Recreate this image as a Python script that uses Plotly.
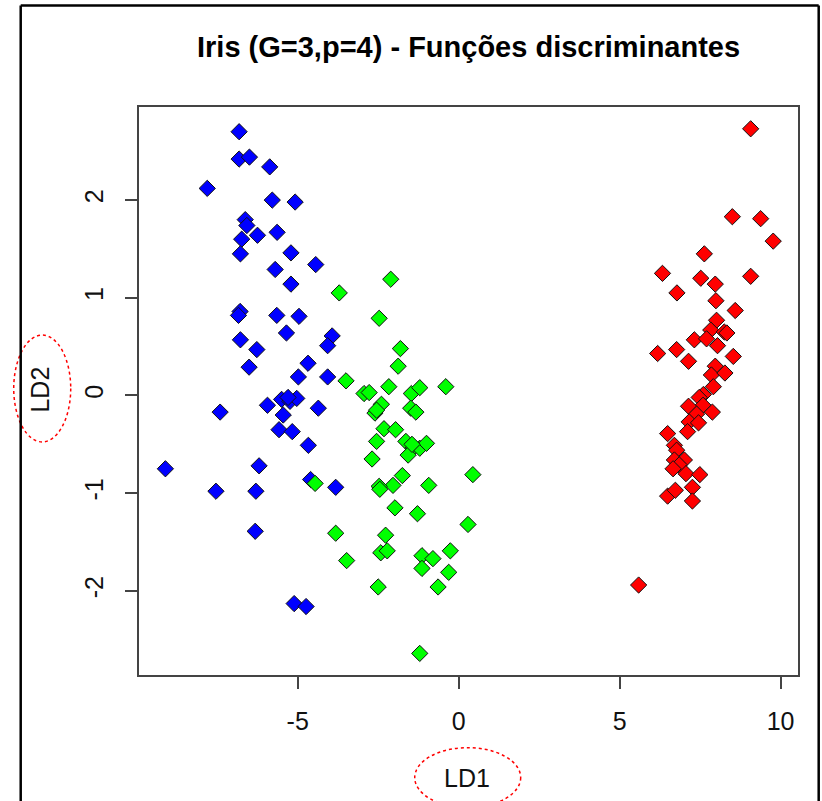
import plotly.graph_objects as go

# Discriminant scores (LD1, LD2) for each group
blue_ld1 = [-6.82, -6.82, -6.50, -5.87, -7.81, -5.79, -5.08, -6.63, -6.58, -6.74,
            -6.25, -5.64, -6.78, -5.21, -4.44, -5.70, -5.21, -6.79, -6.84, -5.65,
            -4.96, -5.35, -3.93, -4.07, -6.78, -6.27, -6.51, -4.68, -4.98, -4.07,
            -7.41, -5.94, -5.50, -5.24, -5.03, -4.36, -5.45, -5.58, -5.17, -4.67,
            -9.11, -6.20, -7.54, -6.30, -4.60, -3.82, -6.32, -5.11, -4.74, -5.30]
blue_ld2 = [2.70, 2.42, 2.44, 2.34, 2.12, 2.00, 1.98, 1.80, 1.74, 1.60,
            1.64, 1.67, 1.45, 1.46, 1.34, 1.29, 1.14, 0.86, 0.82, 0.82,
            0.81, 0.64, 0.61, 0.51, 0.57, 0.47, 0.29, 0.33, 0.19, 0.19,
            -0.17, -0.10, -0.04, -0.06, -0.03, -0.13, -0.20, -0.35, -0.37, -0.51,
            -0.75, -0.72, -0.98, -0.98, -0.86, -0.94, -1.39, -2.13, -2.16, -0.02]

green_ld1 = [-2.11, -3.71, -2.47, -1.81, -1.88, -3.50, -2.94, -2.78, -2.17, -1.47,
             -1.21, -0.40, -2.40, -2.60, -1.49, -1.33, -2.32, -1.96, -2.55, -1.64,
             -1.42, -1.21, -1.00, -1.57, -2.69, 0.44, -1.75, -2.04, -2.47, -2.45,
             -0.93, -4.46, -1.98, -1.28, 0.29, -3.82, -2.27, -2.42, -2.22, -3.48,
             -1.14, -0.80, -0.26, -1.14, -0.31, -2.50, -0.64, -1.21, -2.55, -1.45]
green_ld2 = [1.19, 1.05, 0.79, 0.48, 0.30, 0.15, 0.02, 0.03, 0.09, 0.02,
             0.08, 0.09, -0.09, -0.18, -0.13, -0.17, -0.34, -0.35, -0.47, -0.47,
             -0.54, -0.54, -0.49, -0.61, -0.65, -0.81, -0.82, -0.92, -0.93, -0.96,
             -0.92, -0.90, -1.15, -1.21, -1.32, -1.41, -1.43, -1.61, -1.59, -1.69,
             -1.64, -1.67, -1.59, -1.77, -1.81, -1.96, -1.96, -2.64, -0.15, -0.50]

red_ld1 = [9.07, 8.50, 9.38, 9.77, 7.63, 6.33, 7.52, 7.97, 9.07, 6.78,
           7.99, 8.59, 8.01, 7.83, 8.25, 8.33, 7.32, 7.70, 8.04, 6.18,
           6.77, 7.14, 8.53, 7.97, 7.85, 8.27, 7.91, 7.60, 7.47, 7.59,
           7.14, 7.88, 7.39, 7.16, 7.45, 7.11, 6.49, 6.70, 6.77, 6.70,
           7.01, 6.85, 6.66, 7.06, 7.49, 6.49, 6.73, 7.26, 7.26, 5.59]
red_ld2 = [2.73, 1.83, 1.81, 1.58, 1.45, 1.25, 1.20, 1.14, 1.22, 1.05,
           0.97, 0.87, 0.77, 0.67, 0.65, 0.64, 0.57, 0.58, 0.51, 0.43,
           0.47, 0.35, 0.40, 0.30, 0.21, 0.23, 0.09, 0.01, -0.02, -0.10,
           -0.11, -0.17, -0.19, -0.27, -0.28, -0.37, -0.39, -0.51, -0.56, -0.66,
           -0.66, -0.71, -0.75, -0.80, -0.81, -1.03, -0.97, -0.94, -1.08, -1.94]

x_ticks = [-5, 0, 5, 10]
y_ticks = [-2, -1, 0, 1, 2]

FONT = "Liberation Sans, Arial, sans-serif"

fig = go.Figure()
for xs, ys, col in [(blue_ld1, blue_ld2, "#0000FF"),
                    (green_ld1, green_ld2, "#00FF00"),
                    (red_ld1, red_ld2, "#FF0000")]:
    fig.add_trace(go.Scatter(
        x=xs, y=ys, mode="markers",
        marker=dict(symbol="diamond", size=12.5, color=col,
                    line=dict(color="#111111", width=1)),
        showlegend=False, hoverinfo="x+y"))

axis_common = dict(showgrid=False, zeroline=False, showline=True, mirror=True,
                   linecolor="#444444", linewidth=2, ticks="outside", ticklen=12,
                   tickwidth=1.5, tickcolor="#444444",
                   tickfont=dict(family=FONT, size=25, color="#111111"))

fig.update_layout(
    width=822, height=801,
    margin=dict(l=139, r=24, t=107, b=126),
    paper_bgcolor="white", plot_bgcolor="white",
    xaxis=dict(range=[-9.93, 10.54], tickvals=x_ticks, ticktext=[str(v) for v in x_ticks],
               ticklabelstandoff=11, **axis_common),
    yaxis=dict(range=[-2.861, 2.953], tickvals=y_ticks, ticktext=[str(v) for v in y_ticks],
               tickangle=-90, ticklabelstandoff=12, **axis_common),
    annotations=[
        dict(text="<b>Iris (G=3,p=4) - Funções discriminantes</b>", xref="paper", yref="paper",
             x=0.5, y=1.105, xanchor="center", yanchor="middle", showarrow=False,
             font=dict(family=FONT, size=29, color="black")),
        dict(text="LD1", xref="paper", yref="paper", x=0.497, y=-0.182,
             xanchor="center", yanchor="middle", showarrow=False,
             font=dict(family=FONT, size=25, color="#111111")),
        dict(text="LD2", xref="paper", yref="paper", x=-0.1507, y=0.502, textangle=-90,
             xanchor="center", yanchor="middle", showarrow=False,
             font=dict(family=FONT, size=25, color="#111111")),
    ],
    shapes=[
        dict(type="circle", xref="paper", yref="paper", x0=-0.1901, x1=-0.1036,
             y0=0.4103, y1=0.5985, line=dict(color="red", width=1.5, dash="dot")),
        dict(type="circle", xref="paper", yref="paper", x0=0.4184, x1=0.5792,
             y0=-0.2334, y1=-0.1279, line=dict(color="red", width=1.5, dash="dot")),
        dict(type="line", xref="paper", yref="paper", x0=-0.1795, x1=-0.1795,
             y0=-0.25, y1=1.1789, line=dict(color="black", width=2.5)),
        dict(type="line", xref="paper", yref="paper", x0=-0.1795, x1=1.0314,
             y0=1.1789, y1=1.1789, line=dict(color="black", width=2.5)),
        dict(type="line", xref="paper", yref="paper", x0=1.0314, x1=1.0314,
             y0=-0.25, y1=1.1789, line=dict(color="black", width=2.5)),
    ],
)

fig.write_html("out.html", config={"displayModeBar": False},
               post_script="document.body.style.margin='0';")
